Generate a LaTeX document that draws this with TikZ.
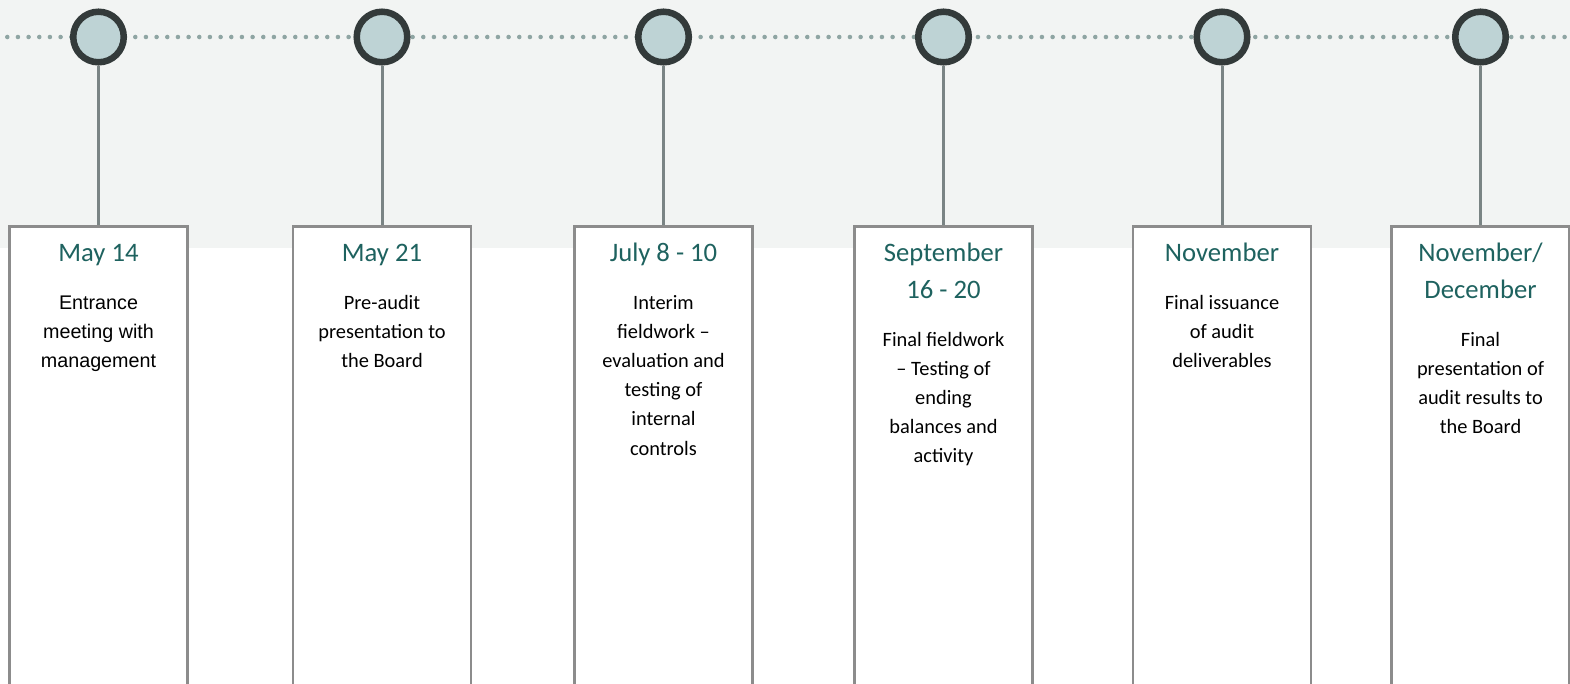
\documentclass[tikz,border=0pt]{standalone}
\usepackage{fontspec}
\setmainfont{Carlito}
\newfontfamily\arialfont[Scale=0.967]{Liberation Sans}

\definecolor{bandgray}{RGB}{242,244,243}
\definecolor{dotgray}{RGB}{143,165,163}
\definecolor{ringgray}{RGB}{51,58,58}
\definecolor{ringfill}{RGB}{190,211,213}
\definecolor{stemgray}{RGB}{122,132,132}
\definecolor{boxgray}{RGB}{140,140,140}
\definecolor{dategreen}{RGB}{30,98,95}

\tikzset{
  milestone/.style={circle, draw=ringgray, fill=ringfill, line width=4.9pt,
    minimum size=37.9pt, inner sep=0pt},
  stepbox/.style={rectangle, draw=boxgray, fill=white, line width=1.9pt,
    minimum width=133.5pt, minimum height=470pt, inner sep=0pt, anchor=north},
  stem/.style={draw=stemgray, line width=2.25pt},
  dots/.style={draw=dotgray, line width=3.4pt, line cap=round,
    dash pattern=on 0pt off 8pt},
  datetext/.style={text=dategreen, font=\fontsize{20}{27.75}\selectfont,
    align=center, anchor=base},
  tasktext/.style={align=center, anchor=base}
}

\begin{document}
\begin{tikzpicture}[x=0.75pt,y=-0.75pt]
\useasboundingbox (0,0) rectangle (1570,683);
\clip (0,0) rectangle (1570,683);

% grey band behind the dates
\fill[bandgray] (0,0) rectangle (1570,248);

% dotted time line
\coordinate (lineW) at (-3.4,37);
\coordinate (lineE) at (1575,37);
\draw[dots] (lineW) -- (lineE);

% base anchors sit on the last line of each text
\foreach \n/\x/\date/\db/\task/\tb/\face in {
  1/98.5/{May 14}/261.5/{Entrance\\meeting with\\management}/367.4/\arialfont,
  2/382/{May 21}/261.5/{Pre-audit\\presentation to\\the Board}/367.4/\relax,
  3/663.5/{July 8 - 10}/261.5/{Interim\\fieldwork --\\evaluation and\\testing of\\internal\\controls}/455/\relax,
  4/943.5/{September\\16 - 20}/298.5/{Final fieldwork\\-- Testing of\\ending\\balances and\\activity}/462.8/\relax,
  5/1222/{November}/261.5/{Final issuance\\of audit\\deliverables}/367.4/\relax,
  6/1480.5/{November/\\December}/298.5/{Final\\presentation of\\audit results to\\the Board}/433.6/\relax} {
  \node[stepbox] (b\n) at (\x,225) {};
  \node[milestone] (c\n) at (\x,37) {};
  \draw[stem] (c\n) -- (b\n);
  \node[datetext] (d\n) at (\x,\db) {\date};
  \node[tasktext, font=\fontsize{15.3}{21.9}\selectfont\face] (t\n) at (\x,\tb) {\task};
}
\end{tikzpicture}
\end{document}
